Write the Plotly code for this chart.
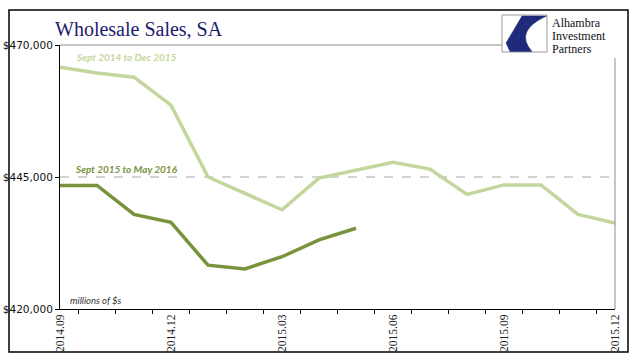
import plotly.graph_objects as go

# ---- data ----
months = ["2014.09", "2014.10", "2014.11", "2014.12", "2015.01", "2015.02", "2015.03", "2015.04",
          "2015.05", "2015.06", "2015.07", "2015.08", "2015.09", "2015.10", "2015.11", "2015.12"]
tick_labels = [m if i % 3 == 0 else "" for i, m in enumerate(months)]
sales_2014_2015 = [465800, 464700, 463900, 458600, 445000, 441900, 438800, 444800,
                   446300, 447800, 446500, 441700, 443500, 443500, 437900, 436300]
sales_2015_2016 = [443400, 443400, 437900, 436400, 428300, 427600, 429900, 433100, 435300]
y_ticks = [420000, 445000, 470000]
y_tick_labels = ["$420,000", "$445,000", "$470,000"]
ref_level = 445000

W, H = 641, 358
ML, MR, MT, MB = 60, 26, 45, 49
PW, PH = W - ML - MR, H - MT - MB


def fx(px):
    return (px - ML) / PW


def fy(py):
    return (H - MB - py) / PH


LIGHT = "#c3d69b"
DARK = "#77933c"

fig = go.Figure()
fig.add_trace(go.Scatter(x=months, y=sales_2014_2015, mode="lines",
                         line=dict(color=LIGHT, width=3.5), hoverinfo="skip"))
fig.add_trace(go.Scatter(x=months[:len(sales_2015_2016)], y=sales_2015_2016, mode="lines",
                         line=dict(color=DARK, width=3.5), hoverinfo="skip"))

shapes = []
# dashed reference line
shapes.append(dict(type="line", xref="paper", yref="y", x0=0, x1=1, y0=ref_level, y1=ref_level,
                   line=dict(color="#a6a6a6", width=1, dash="dash"), layer="below"))
# gray top and right border of plot area
shapes.append(dict(type="line", xref="paper", yref="paper", x0=0, x1=fx(502), y0=1, y1=1,
                   line=dict(color="#8c8c8c", width=1)))
shapes.append(dict(type="line", xref="paper", yref="paper", x0=1, x1=1, y0=0, y1=fy(58),
                   line=dict(color="#8c8c8c", width=1)))
# outer frame
shapes.append(dict(type="rect", xref="paper", yref="paper", x0=fx(9), x1=fx(628), y0=fy(352), y1=fy(10),
                   line=dict(color="black", width=1.5), layer="below"))
# logo box
shapes.append(dict(type="rect", xref="paper", yref="paper", x0=fx(502), x1=fx(547), y0=fy(52), y1=fy(15),
                   line=dict(color="#9a9a9a", width=1), fillcolor="white"))
path = (f"M {fx(522)},{fy(16)} L {fx(546.5)},{fy(16)} Q {fx(514)},{fy(31)} {fx(532)},{fy(51.5)} "
        f"L {fx(510)},{fy(51.5)} L {fx(506)},{fy(43)} Z")
shapes.append(dict(type="path", xref="paper", yref="paper", path=path,
                   fillcolor="#1f2a7a", line=dict(color="#1f2a7a", width=0.5)))

annotations = [
    dict(text="Sept 2014 to Dec 2015", x=fx(74), y=fy(57), xref="paper", yref="paper",
         xanchor="left", yanchor="middle", showarrow=False,
         font=dict(family="Lato", size=10, color=LIGHT, weight="bold", style="italic")),
    dict(text="Sept 2015 to May 2016", x=fx(73), y=fy(169), xref="paper", yref="paper",
         xanchor="left", yanchor="middle", showarrow=False,
         font=dict(family="Lato", size=10, color=DARK, weight="bold", style="italic")),
    dict(text="millions of $s", x=fx(68), y=fy(300), xref="paper", yref="paper",
         xanchor="left", yanchor="middle", showarrow=False,
         font=dict(family="Lato", size=9.5, color="#333333", style="italic")),
]
for i, word in enumerate(["Alhambra", "Investment", "Partners"]):
    annotations.append(dict(text=word, x=fx(551), y=fy(23 + 13 * i), xref="paper", yref="paper",
                            xanchor="left", yanchor="middle", showarrow=False, borderpad=0,
                            font=dict(family="Liberation Serif", size=12, color="#111111")))

fig.update_layout(
    width=W, height=H,
    margin=dict(l=ML, r=MR, t=MT, b=MB),
    paper_bgcolor="white", plot_bgcolor="white",
    showlegend=False,
    title=dict(text="Wholesale Sales, SA", x=55 / W, y=1 - 29 / H, xanchor="left", yanchor="middle",
               font=dict(family="Liberation Serif", size=20, color="#1c1c6e")),
    shapes=shapes,
    annotations=annotations,
    xaxis=dict(type="category", tickvals=months, ticktext=tick_labels, tickson="boundaries",
               ticks="outside", ticklen=4, tickcolor="black", tickwidth=1, automargin=False,
               showline=True, linecolor="black", linewidth=1, showgrid=False, zeroline=False,
               tickangle=-90, tickfont=dict(family="Liberation Serif", size=11.5, color="#222222")),
    yaxis=dict(range=[y_ticks[0], y_ticks[-1]], tickvals=y_ticks, ticktext=y_tick_labels,
               ticks="outside", ticklen=4, tickcolor="black", tickwidth=1, automargin=False,
               showline=True, linecolor="black", linewidth=1, showgrid=False, zeroline=False,
               tickfont=dict(family="DejaVu Sans", size=10.5, color="#111111")),
)

fig.write_html("out.html", config={"displayModeBar": False},
               post_script="document.body.style.margin='0';")
